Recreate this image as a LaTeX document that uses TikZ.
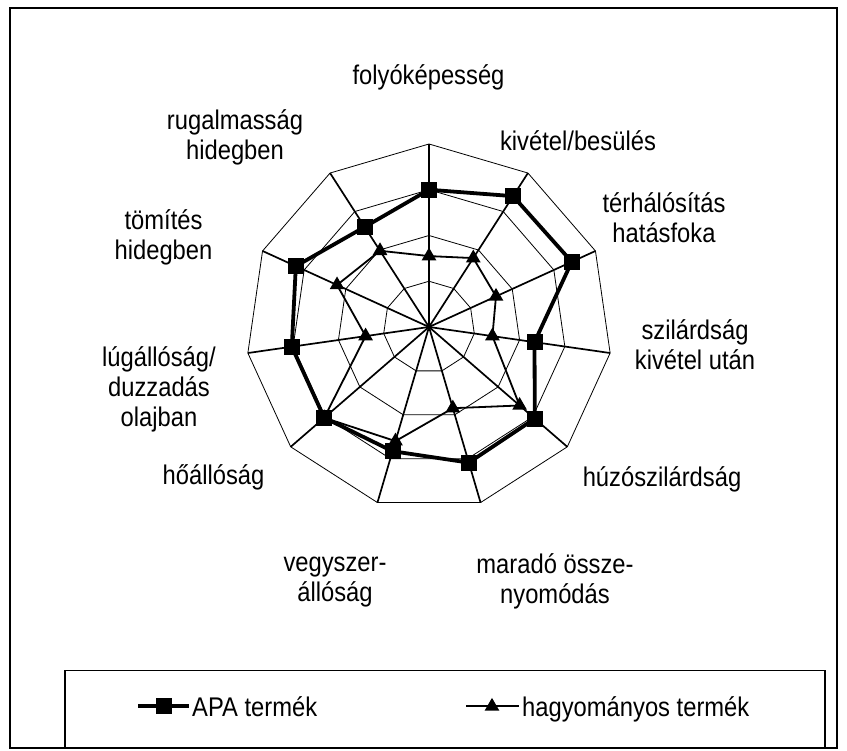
\documentclass[tikz,border=0pt]{standalone}
\usepackage{fontspec}
\setmainfont{Liberation Sans}[FakeStretch=0.88]
\usetikzlibrary{shapes.geometric,positioning}

\newcommand{\cimkebetu}{\fontsize{27}{30}\selectfont}

\tikzset{
    racs/.style={line width=0.8pt},
    tengely/.style={line width=1.7pt},
    apavonal/.style={line width=3.8pt},
    hagyvonal/.style={line width=1.8pt},
    negyzet/.style={rectangle, fill=black, minimum size=16pt, inner sep=0pt},
    haromszog/.style={regular polygon, regular polygon sides=3, fill=black, minimum size=17pt, inner sep=0pt},
    cimke/.style={font=\cimkebetu, align=center, inner sep=0pt},
    jelmagy/.style={font=\cimkebetu, inner sep=0pt, anchor=base west}
}

\begin{document}
\begin{tikzpicture}[x=1pt,y=1pt]
    \useasboundingbox (0,0) rectangle (847,751);
    % Keret
    \draw[line width=1.4pt] (10,3) rectangle (837,743);

    \begin{scope}[shift={(429,424)}]
        % Racs: 4 tizenegyszog
        \foreach \r in {1,...,4}
            \draw[racs] (90:{\r*45.75}) \foreach \i in {1,...,10} { -- ({90-\i*360/11}:{\r*45.75}) } -- cycle;
        % Tengelyek
        \coordinate (kozep) at (0,0);
        \foreach \i in {0,...,10} {
            \coordinate (veg\i) at ({90-\i*360/11}:183);
            \draw[tengely] (kozep) -- (veg\i);
        }

        % Adatpontok
        \foreach \v [count=\i from 0] in {3.00,3.40,3.43,2.33,3.06,3.09,2.83,3.03,3.03,3.20,2.60}
            \coordinate (apa\i) at ({90-\i*360/11}:{\v*45.75});
        \foreach \v [count=\i from 0] in {1.55,1.79,1.61,1.40,2.62,1.85,2.60,3.03,1.40,2.21,1.98}
            \coordinate (hagy\i) at ({90-\i*360/11}:{\v*45.75});

        % APA termek
        \draw[apavonal] (apa0) \foreach \i in {1,...,10} { -- (apa\i) } -- cycle;
        % hagyomanyos termek
        \draw[hagyvonal] (hagy0) \foreach \i in {1,...,10} { -- (hagy\i) } -- cycle;
        \foreach \i in {0,...,10}
            \node[haromszog] (hjel\i) at (hagy\i) {};
        \foreach \i in {0,...,10}
            \node[negyzet] (ajel\i) at (apa\i) {};
    \end{scope}

    % Tengelyfeliratok
    \node[cimke] (c0) at (428.5,674) {folyóképesség};
    \node[cimke] (c1) at (578,610) {kivétel/besülés};
    \node[cimke] (c2) at (664,533) {térhálósítás\\hatásfoka};
    \node[cimke] (c3) at (695,406) {szilárdság\\kivétel után};
    \node[cimke] (c4) at (662,272) {húzószilárdság};
    \node[cimke] (c5) at (555,170) {maradó össze-\\nyomódás};
    \node[cimke] (c6) at (335,169) {vegyszer-\\állóság};
    \node[cimke] (c7) at (213.5,274) {hőállóság};
    \node[cimke] (c8) at (159,362) {lúgállóság/\\duzzadás\\olajban};
    \node[cimke] (c9) at (163.5,514) {tömítés\\hidegben};
    \node[cimke] (c10) at (235,614) {rugalmasság\\hidegben};

    % Jelmagyarazat
    \draw[line width=1.4pt] (65,3) rectangle (825,80.5);
    \coordinate (apaB) at (138,44.6);
    \coordinate (apaJ) at (189,44.6);
    \draw[apavonal] (apaB) -- (apaJ);
    \node[negyzet] (apaJel) at (163.5,44.6) {};
    \node[jelmagy] (apaSzoveg) at (192,34) {APA termék};

    \coordinate (hagyB) at (466,44.6);
    \coordinate (hagyJ) at (519,44.6);
    \draw[hagyvonal] (hagyB) -- (hagyJ);
    \node[haromszog] (hagyJel) at (492,44.6) {};
    \node[jelmagy] (hagySzoveg) at (522,34) {hagyományos termék};
\end{tikzpicture}
\end{document}
